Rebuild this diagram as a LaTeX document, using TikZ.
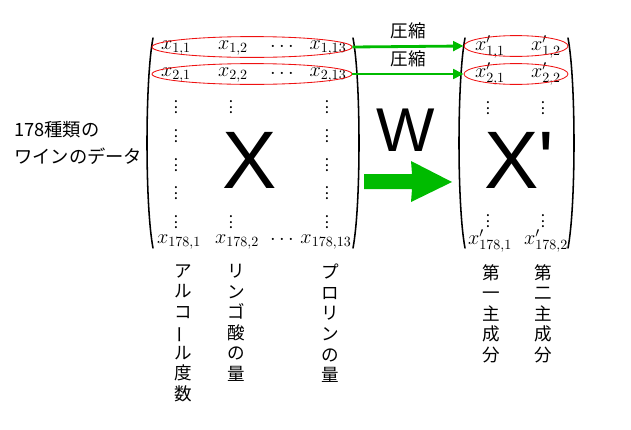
\documentclass[tikz,border=0pt]{standalone}
\usepackage{fontspec}
\usepackage{tikz}
\usetikzlibrary{arrows.meta, positioning, calc, shapes.geometric}
\setmainfont{Noto Sans CJK JP}
\newfontfamily\latinfont{Liberation Sans}
\definecolor{cmpgreen}{HTML}{00BB00}
\definecolor{rowred}{HTML}{EE1111}

\begin{document}
\begin{tikzpicture}[x=0.025cm, y=-0.025cm,
    entry/.style={inner sep=0pt, font=\fontsize{14}{16}\selectfont},
    vdot/.style={inner sep=0pt, font=\fontsize{11}{13}\selectfont},
    rowring/.style={ellipse, draw=rowred, line width=0.6pt, inner sep=0pt, minimum width=#1, minimum height=0.52cm},
    vlabel/.style={anchor=north, align=center, inner sep=0pt, font=\fontsize{12.5}{14.6}\selectfont},
    paren/.style={line width=1.1pt, line cap=round},
    compress/.style={-{Triangle[length=2.6mm, width=2.4mm]}, line width=2pt, draw=cmpgreen},
    arrowtext/.style={above=1pt, text=black, font=\fontsize{12.5}{14}\selectfont},
    bigletter/.style={inner sep=0pt, font=\latinfont\fontsize{#1}{#1}\selectfont}
]
\useasboundingbox (0,0) rectangle (631,429);

% Original data matrix
\draw[paren] (153,38) .. controls (145,80) and (145,206) .. (153,248);
\draw[paren] (353,38) .. controls (361,80) and (361,206) .. (353,248);

\node[entry] (x11) at (176,48) {$x_{1,1}$};
\node[entry] (x12) at (233,48) {$x_{1,2}$};
\node[entry] (x1d) at (282,47) {$\cdots$};
\node[entry] (x113) at (328,48) {$x_{1,13}$};
\node[entry] (x21) at (176,75) {$x_{2,1}$};
\node[entry] (x22) at (233,75) {$x_{2,2}$};
\node[entry] (x2d) at (282,74) {$\cdots$};
\node[entry] (x213) at (328,75) {$x_{2,13}$};
\node[entry] (xn1) at (179,242) {$x_{178,1}$};
\node[entry] (xn2) at (237,242) {$x_{178,2}$};
\node[entry] (xnd) at (282,240) {$\cdots$};
\node[entry] (xn13) at (326,242) {$x_{178,13}$};

\foreach \r/\y in {1/103, 2/132, 3/161, 4/189, 5/218} {
  \node[vdot] (va\r) at (176,\y) {$\vdots$};
  \node[vdot] (vc\r) at (327,\y) {$\vdots$};
}
\node[vdot] (vb1) at (231,103) {$\vdots$};
\node[vdot] (vb5) at (231,218) {$\vdots$};

\node[rowring=5cm] (r1) at (252,47) {};
\node[rowring=5cm] (r2) at (252,74) {};

\node[bigletter=58] (bigx) at (250,160) {X};

% Compressed matrix
\draw[paren] (465,38) .. controls (457,80) and (457,206) .. (465,248);
\draw[paren] (568,38) .. controls (576,80) and (576,206) .. (568,248);

\node[entry] (y11) at (490,47) {$x'_{1,1}$};
\node[entry] (y12) at (546,47) {$x'_{1,2}$};
\node[entry] (y21) at (490,74) {$x'_{2,1}$};
\node[entry] (y22) at (546,74) {$x'_{2,2}$};
\node[entry] (yn1) at (490,241) {$x'_{178,1}$};
\node[entry] (yn2) at (546,241) {$x'_{178,2}$};
\node[vdot] (wa1) at (488,104) {$\vdots$};
\node[vdot] (wb1) at (543,104) {$\vdots$};
\node[vdot] (wa2) at (488,217) {$\vdots$};
\node[vdot] (wb2) at (543,217) {$\vdots$};

\node[rowring=2.6cm] (p1) at (516,46) {};
\node[rowring=2.6cm] (p2) at (516,74) {};

\node[bigletter=58] (bigxp) at (519,160) {X'};

% Compression arrows
\draw[compress] (r1.east) -- node[arrowtext] (c1) {圧縮} (p1.west);
\draw[compress] (r2.east) -- node[arrowtext] (c2) {圧縮} (p2.west);

% Projection W
\node[bigletter=44] (wlab) at (406,130) {W};
\fill[cmpgreen] (364,174) -- (412,174) -- (411,161) -- (452,182) -- (411,202) -- (412,189) -- (364,189) -- cycle;

% Annotations
\node[anchor=west, align=left, inner sep=0pt, font=\fontsize{13}{19}\selectfont] (wine) at (14,143) {178種類の\\ワインのデータ};

\node[vlabel] (alc) at (183,264) {ア\\ル\\コ\\\rotatebox[origin=c]{90}{ー}\\ル\\度\\数};
\node[vlabel] (mal) at (236,264) {リ\\ン\\ゴ\\酸\\の\\量};
\node[vlabel] (pro) at (330,264) {プ\\ロ\\リ\\ン\\の\\量};
\node[vlabel] (pc1) at (491,264) {第\\一\\主\\成\\分};
\node[vlabel] (pc2) at (543,264) {第\\二\\主\\成\\分};

\end{tikzpicture}
\end{document}
